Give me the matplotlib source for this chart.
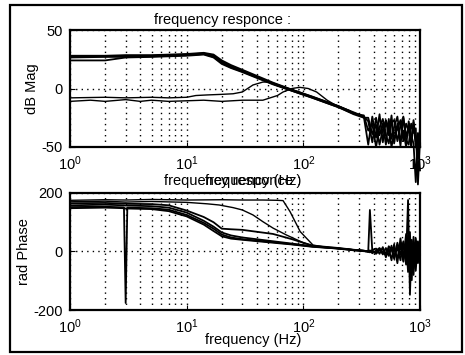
import matplotlib
matplotlib.use('Agg')
import matplotlib.pyplot as plt
from matplotlib.patches import Rectangle

plt.rcParams['font.family'] = ['Liberation Sans', 'DejaVu Sans']
plt.rcParams['mathtext.default'] = 'regular'
plt.rcParams['axes.unicode_minus'] = False

# ---- magnitude data (dB) ----
f_mag = [1, 2, 3, 5, 7, 10, 14, 17, 20, 24, 30, 55, 80, 120, 200, 270, 330,
         360, 390, 420, 450, 480, 510, 540, 570, 600, 640, 680, 720, 760, 800,
         840, 880, 920, 960, 1000]
mag1 = [28, 28, 28.5, 28.5, 29, 29.5, 30.5, 29, 24, 20, 16, 5, -1, -7, -15, -21, -24,
        -48, -24, -42, -22, -46, -28, -40, -23, -47, -30, -49, -25, -41, -33,
        -50, -27, -45, -60, -33]
mag2 = [27.5, 27.5, 28, 28, 28.5, 29, 30, 28, 23, 19, 15, 4, -1.5, -7.5, -15.5, -21, -24,
        -28, -46, -25, -40, -30, -48, -26, -43, -33, -24, -44, -36, -50, -28,
        -40, -47, -80, -38, -49]
mag3 = [26.5, 27, 27, 27.5, 28, 28.5, 29.5, 27, 22, 18, 14.5, 4, -2, -8, -16, -21.5, -23,
        -36, -30, -50, -33, -26, -40, -47, -29, -27, -45, -32, -24, -44, -48,
        -30, -38, -34, -82, -45]
mag4 = [24, 24, 26.5, 27, 27.5, 28, 29, 26.5, 21, 17.5, 14, 3.5, -2, -8, -16, -22, -25,
        -25, -39, -31, -48, -35, -27, -34, -50, -38, -35, -27, -45, -30, -36,
        -46, -29, -50, -42, -70]

f_thin1 = [1, 2, 3, 5, 7, 10, 12, 15, 20, 25, 30, 37, 45, 52, 80, 120, 200, 300]
mag_thin1 = [-8, -7.5, -8, -7.5, -8, -7.5, -6, -5.5, -5, -4.5, -3, 3, 5.5, 5.5, -1, -7, -15, -22]

f_thin2 = [1, 1.5, 2, 3, 4, 5, 7, 10, 14, 20, 30, 45, 60, 67, 80, 93, 110, 130, 160, 187, 250]
mag_thin2 = [-11, -10, -11, -9.5, -11, -10, -11, -10.5, -10, -11, -10, -10, -6, -3, 0, 1, 0,
             -3, -10, -14, -19]

# ---- phase data ----
f_ph = [1, 2, 2.9, 3, 3.1, 5, 7, 10, 14, 17, 20, 24, 30, 55, 80, 120, 200, 270, 330,
        360, 372, 390, 420, 450, 480, 510, 540, 570, 600, 640, 680, 720, 760, 790,
        820, 850, 880, 920, 960, 1000]
ph1 = [165, 166, 164, 164, 163, 162, 158, 140, 118, 100, 78, 76, 74, 60, 42, 20, 12, 6, 3,
       0, 142, 2, -5, 8, -10, 12, -15, 20, -25, 15, -30, 35, -20, 176,
       -148, 40, -60, 30, -40, 10]
ph2 = [158, 160, 158, 157, 157, 155, 150, 133, 105, 85, 65, 55, 48, 35, 27, 18, 11, 5, 2,
       2, -3, 5, 10, -8, 15, -20, 10, -30, 25, -40, 45, -25, 60, -50,
       66, -98, 50, -30, 20, -10]
ph3 = [152, 153, 151, -176, 150, 148, 143, 125, 98, 78, 58, 48, 42, 32, 25, 17, 10, 5, 2,
       -2, 4, -6, 3, 12, -4, -12, 18, 5, -18, 30, -10, 20, -45, 55,
       -60, 35, -80, 45, -20, 15]
ph4 = [148, 150, 148, 147, 147, 145, 138, 120, 92, 70, 52, 44, 40, 30, 24, 16, 10, 4, 1,
       1, -1, 3, -8, 4, 8, -6, -10, 14, 8, -22, 20, -35, 30, -70,
       40, -50, 25, -65, 35, -5]

f_pth1 = [1, 2, 3, 5, 10, 20, 30, 45, 60, 67, 77, 94, 121, 160, 200, 270, 330]
ph_thin1 = [175, 177, 176, 178, 176, 177, 176, 176, 175, 174, 136, 68, 22, 14, 10, 6, 3]
f_pth2 = [1, 2, 3, 5, 10, 15, 19, 25, 30, 37, 45, 55, 72, 100, 130, 200, 270, 330]
ph_thin2 = [170, 172, 169, 171, 168, 163, 159, 150, 142, 125, 102, 80, 56, 30, 16, 10, 6, 3]

W, H = 465, 355
fig = plt.figure(figsize=(W / 100, H / 100), dpi=100)

def setup(ax, ylim, yticks):
    ax.set_xscale('log')
    ax.set_xlim(1, 1000)
    ax.set_ylim(*ylim)
    ax.set_yticks(yticks)
    ax.grid(True, which='both', axis='x', color='black', linestyle=(0, (1, 3)), linewidth=1.0)
    ax.grid(True, which='major', axis='y', color='black', linestyle=(0, (1, 3)), linewidth=1.0)
    ax.tick_params(which='both', direction='in', labelsize=10.5, pad=5)
    ax.tick_params(which='minor', length=0)
    for s in ax.spines.values():
        s.set_linewidth(1.6)

ax1 = fig.add_axes([70 / W, 1 - 147 / H, 350 / W, 117 / H])
setup(ax1, (-50, 50), [-50, 0, 50])
for m in [mag1, mag2, mag3, mag4]:
    ax1.plot(f_mag, m, color='black', linewidth=1.3, clip_on=False)
ax1.plot(f_thin1, mag_thin1, color='black', linewidth=1.0)
ax1.plot(f_thin2, mag_thin2, color='black', linewidth=1.0)
ax1.set_ylabel('dB Mag', fontsize=10.5, labelpad=2)

ax2 = fig.add_axes([70 / W, 1 - 310 / H, 350 / W, 117 / H])
setup(ax2, (-200, 200), [-200, 0, 200])
for p in [ph1, ph2, ph3, ph4]:
    ax2.plot(f_ph, p, color='black', linewidth=1.3, clip_on=False)
ax2.plot(f_pth1, ph_thin1, color='black', linewidth=1.0)
ax2.plot(f_pth2, ph_thin2, color='black', linewidth=1.0)
ax2.set_ylabel('rad Phase', fontsize=10.5, labelpad=2)

fig.text(222 / W, 1 - 20 / H, 'frequency responce :', ha='center', va='center', fontsize=10.5)
fig.text(232 / W, 1 - 181 / H, 'frequency responce :', ha='center', va='center', fontsize=10.5)
fig.text(253 / W, 1 - 181 / H, 'frequency (Hz)', ha='center', va='center', fontsize=10.5)
fig.text(253 / W, 1 - 340 / H, 'frequency (Hz)', ha='center', va='center', fontsize=10.5)

fig.add_artist(Rectangle((10 / W, 1 - 352 / H), 452 / W, 347 / H, transform=fig.transFigure,
                         fill=False, edgecolor='black', linewidth=1.6))

fig.savefig('out.png', dpi=100)
